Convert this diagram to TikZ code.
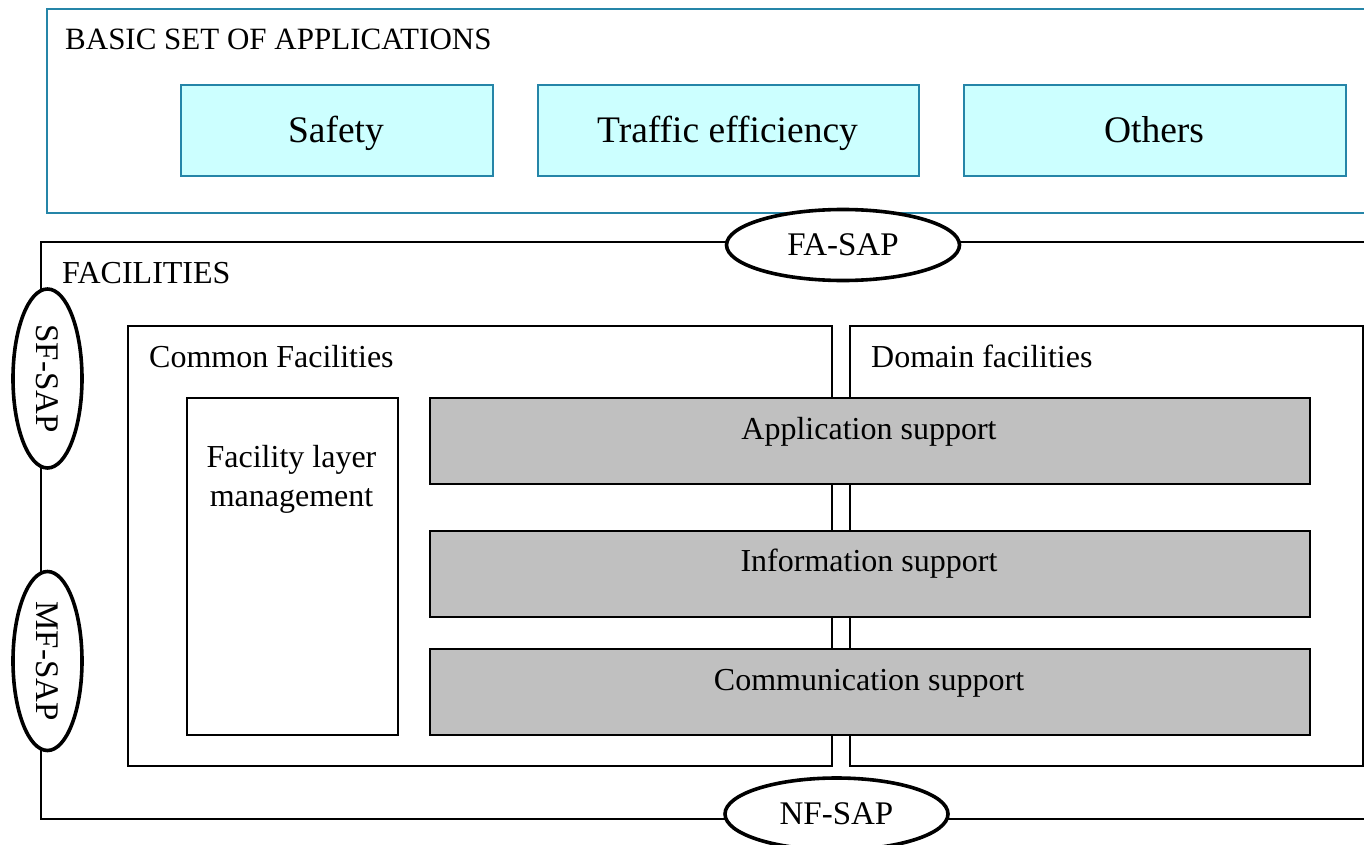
\documentclass[tikz,border=0pt]{standalone}
\usepackage{fontspec}
\setmainfont{Liberation Serif}
\usetikzlibrary{shapes.geometric}

\definecolor{appedge}{HTML}{2585A8}
\definecolor{appfill}{HTML}{CCFFFF}
\definecolor{supfill}{HTML}{C0C0C0}

\tikzset{
  layerframe/.style={draw=appedge, line width=2.4pt, inner sep=0pt, anchor=north west},
  appbox/.style={draw=appedge, fill=appfill, line width=2pt, inner sep=0pt, anchor=north west},
  frame/.style={draw=black, line width=1.6pt, inner sep=0pt, anchor=north west},
  supbox/.style={frame, fill=supfill},
  sap/.style={ellipse, draw=black, fill=white, line width=3.6pt, inner sep=0pt,
              font=\fontsize{33}{36}\selectfont},
  lbl/.style={inner sep=0pt, font=\fontsize{32}{39}\selectfont},
  applbl/.style={inner sep=0pt, anchor=base, font=\fontsize{37.5}{42}\selectfont},
}

\begin{document}
\begin{tikzpicture}[x=1pt, y=-1pt]
  \useasboundingbox (0,0) rectangle (1364,845);
  \clip (0,0) rectangle (1364,845);

  % application layer
  \node[layerframe, minimum width=1340pt, minimum height=204pt] (basic) at (46,8) {};
  \node[lbl, anchor=base west, font=\fontsize{31}{36}\selectfont] (basiclbl) at (65,50) {BASIC SET OF APPLICATIONS};

  \node[appbox, minimum width=312pt, minimum height=91pt] (safety) at (180,84) {};
  \node[appbox, minimum width=381pt, minimum height=91pt] (traffic) at (537,84) {};
  \node[appbox, minimum width=382pt, minimum height=91pt] (others) at (963,84) {};
  \node[applbl] (safetylbl) at (336,143) {Safety};
  \node[applbl] (trafficlbl) at (727.5,143) {Traffic efficiency};
  \node[applbl] (otherslbl) at (1154,143) {Others};

  % facilities layer
  \node[frame, minimum width=1340pt, minimum height=577pt] (fac) at (40,241) {};
  \node[lbl, anchor=base west] (faclbl) at (62,283) {FACILITIES};

  \node[frame, minimum width=704pt, minimum height=440pt] (common) at (127,325) {};
  \node[frame, minimum width=513pt, minimum height=440pt] (domain) at (849,325) {};
  \node[lbl, anchor=base west] (commonlbl) at (149,367) {Common Facilities};
  \node[lbl, anchor=base west] (domainlbl) at (871,367) {Domain facilities};

  \node[frame, minimum width=211pt, minimum height=337pt] (flm) at (186,397) {};
  % base anchor of a two-line node sits on its last line
  \node[lbl, anchor=base, align=center] (flmlbl) at (291.5,506) {Facility layer\\management};

  \node[supbox, minimum width=880pt, minimum height=86pt] (appsup) at (429,397) {};
  \node[supbox, minimum width=880pt, minimum height=86pt] (infosup) at (429,530) {};
  \node[supbox, minimum width=880pt, minimum height=86pt] (commsup) at (429,648) {};
  \node[lbl, anchor=base] (appsuplbl) at (869,439) {Application support};
  \node[lbl, anchor=base] (infosuplbl) at (869,571) {Information support};
  \node[lbl, anchor=base] (commsuplbl) at (869,690) {Communication support};

  % service access points
  \node[sap, minimum width=233pt, minimum height=71pt] (fasap) at (843,245) {FA-SAP};
  \node[sap, minimum width=223pt, minimum height=72pt] (nfsap) at (836.5,814) {NF-SAP};
  \node[sap, rotate=-90, minimum width=179pt, minimum height=69pt] (sfsap) at (47.5,378.5) {SF-SAP};
  \node[sap, rotate=-90, minimum width=179pt, minimum height=69pt] (mfsap) at (47.5,661) {MF-SAP};
\end{tikzpicture}
\end{document}
